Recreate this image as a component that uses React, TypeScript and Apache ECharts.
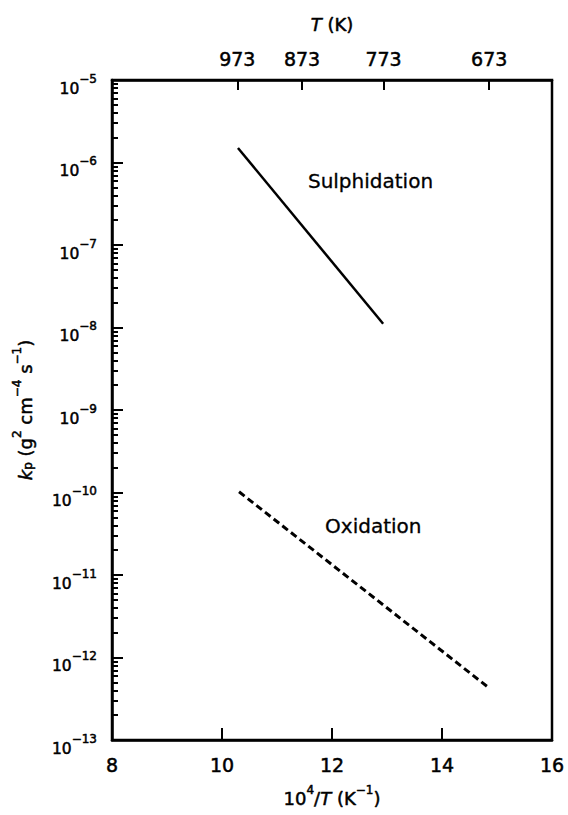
import React, { useEffect, useRef } from "react";
import * as echarts from "echarts";

// Reciprocal temperature axis (10^4/T, K^-1)
const invTempMin = 8;
const invTempMax = 16;
const invTempStep = 2;

// Temperatures marked on the upper axis (K)
const temperatureTicks = [973, 873, 773, 673];

// Decades of the parabolic rate constant axis (exponents of 10)
const kpMinExp = -13;
const kpMaxExp = -5;

// Sulphidation: 10^4/T and kp (g^2 cm^-4 s^-1)
const sulphidationInvT = [10.29, 12.93];
const sulphidationKp = [1.5e-6, 1.11e-8];

// Oxidation: 10^4/T and kp (g^2 cm^-4 s^-1)
const oxidationInvT = [10.31, 14.87];
const oxidationKp = [1.02e-10, 4.2e-13];

// Curve captions and where they sit, in data coordinates
const captionNames = ["Sulphidation", "Oxidation"];
const captionInvT = [12.7, 12.75];
const captionKp = [5.9e-7, 3.9e-11];

const FONT = "DejaVu Sans";
const MINUS = "\u2212";
// a thin outline gives the lettering a slightly heavier weight
const ink = { color: "#000", textBorderColor: "#000", textBorderWidth: 0.5 };

const tickRich = {
  b: { fontFamily: FONT, fontSize: 15.5, verticalAlign: "bottom", ...ink },
  s: { fontFamily: FONT, fontSize: 12, verticalAlign: "top", padding: [0, 0, 12, 0], ...ink },
};

const nameRich = {
  b: { fontFamily: FONT, fontSize: 18, verticalAlign: "bottom", ...ink },
  i: { fontFamily: FONT, fontSize: 18, fontStyle: "italic", verticalAlign: "bottom", ...ink },
  s: { fontFamily: FONT, fontSize: 12, verticalAlign: "top", padding: [0, 0, 11, 0], ...ink },
  sub: { fontFamily: FONT, fontSize: 12, verticalAlign: "bottom", padding: [4, 0, 0, 0], ...ink },
};

export default function App() {
  const ref = useRef<HTMLDivElement>(null);

  useEffect(() => {
    if (!ref.current) return;
    const chart = echarts.init(ref.current, undefined, { renderer: "svg" });

    const topTickPositions = temperatureTicks.map((t) => 1e4 / t);
    const minorLogPositions: number[] = [];
    for (let e = kpMinExp; e < kpMaxExp; e++) {
      for (let k = 2; k <= 9; k++) minorLogPositions.push(e + Math.log10(k));
    }

    const axisLine = { show: true, lineStyle: { color: "#000", width: 2.5 } };

    chart.setOption({
      animation: false,
      backgroundColor: "#fff",
      textStyle: { fontFamily: FONT, color: "#000" },
      grid: {
        left: 112,
        right: 16,
        top: 80,
        bottom: 75,
        show: true,
        borderColor: "#000",
        borderWidth: 2.5,
        backgroundColor: "transparent",
      },
      xAxis: [
        {
          type: "value",
          position: "bottom",
          min: invTempMin,
          max: invTempMax,
          interval: invTempStep,
          axisLine,
          axisTick: { show: true, inside: true, length: 12, lineStyle: { color: "#000", width: 2 } },
          axisLabel: { fontFamily: FONT, fontSize: 19, margin: 15, ...ink },
          splitLine: { show: false },
          name: `{b|10}{s|4}{b|/}{i|T}{b| (K}{s|${MINUS}1}{b|)}`,
          nameLocation: "middle",
          nameGap: 44,
          nameTextStyle: { rich: nameRich },
        },
        {
          type: "value",
          position: "top",
          min: invTempMin,
          max: invTempMax,
          axisLine,
          axisTick: {
            show: true,
            inside: true,
            length: 10,
            lineStyle: { color: "#000", width: 2 },
            customValues: topTickPositions,
          },
          axisLabel: {
            fontFamily: FONT,
            fontSize: 19,
            margin: 12,
            ...ink,
            customValues: topTickPositions,
            formatter: (v: number) => String(Math.round(1e4 / v)),
          },
          splitLine: { show: false },
          name: "{i|T}{b| (K)}",
          nameLocation: "middle",
          nameGap: 47,
          nameTextStyle: { rich: nameRich },
        },
      ],
      yAxis: [
        {
          type: "log",
          logBase: 10,
          position: "left",
          min: Math.pow(10, kpMinExp),
          max: Math.pow(10, kpMaxExp),
          interval: 1,
          splitNumber: kpMaxExp - kpMinExp,
          axisLine,
          axisTick: { show: true, inside: true, length: 11, lineStyle: { color: "#000", width: 2 } },
          axisLabel: {
            margin: 15,
            fontSize: 15,
            padding: [9, 0, 0, 0],
            formatter: (v: number) => {
              const e = Math.round(Math.log10(v));
              return `{b|10}{s|${e < 0 ? MINUS : ""}${Math.abs(e)}}`;
            },
            rich: tickRich,
          },
          splitLine: { show: false },
          name: `{i|k}{sub|p}{b| (g}{s|2}{b| cm}{s|${MINUS}4}{b| s}{s|${MINUS}1}{b|)}`,
          nameLocation: "middle",
          nameGap: 78,
          nameTextStyle: { rich: nameRich },
        },
        {
          // minor ticks between the decades
          type: "value",
          position: "left",
          min: kpMinExp,
          max: kpMaxExp,
          interval: 1,
          axisLine: { show: false },
          axisLabel: { show: false },
          splitLine: { show: false },
          axisTick: {
            show: true,
            inside: true,
            length: 6,
            lineStyle: { color: "#000", width: 2 },
            customValues: minorLogPositions,
          },
        },
      ],
      series: [
        {
          name: "Sulphidation",
          type: "line",
          xAxisIndex: 0,
          yAxisIndex: 0,
          data: sulphidationInvT.map((x, i) => [x, sulphidationKp[i]]),
          symbol: "none",
          lineStyle: { color: "#000", width: 2.5, type: "solid" },
          silent: true,
        },
        {
          name: "Oxidation",
          type: "line",
          xAxisIndex: 0,
          yAxisIndex: 0,
          data: oxidationInvT.map((x, i) => [x, oxidationKp[i]]),
          symbol: "none",
          lineStyle: { color: "#000", width: 3, type: [7, 4] },
          silent: true,
        },
        {
          name: "captions",
          type: "scatter",
          xAxisIndex: 0,
          yAxisIndex: 0,
          symbolSize: 0,
          silent: true,
          itemStyle: { opacity: 1, color: "#000" },
          data: captionNames.map((n, i) => ({ name: n, value: [captionInvT[i], captionKp[i]] })),
          label: {
            show: true,
            position: "inside",
            formatter: (p: any) => p.name,
            fontFamily: FONT,
            fontSize: 20,
            color: "#000",
            opacity: 1,
            textBorderColor: "#000",
            textBorderWidth: 0.3,
          },
        },
      ],
    });

    return () => chart.dispose();
  }, []);

  return (
    <div
      ref={ref}
      style={{ position: "fixed", left: 0, top: 0, width: 568, height: 815, background: "#fff" }}
    />
  );
}
